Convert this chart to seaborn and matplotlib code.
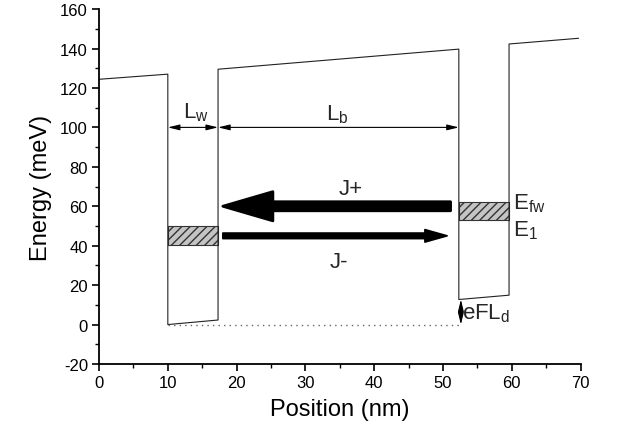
import matplotlib
matplotlib.use("Agg")
import matplotlib.pyplot as plt
import seaborn as sns
import numpy as np

# ---- data ----
profile_x = [0, 10, 10, 17.3, 17.3, 52.3, 52.3, 59.6, 59.6, 69.7]
profile_y = [124.4, 127.0, 0.0, 2.3, 129.5, 139.7, 12.7, 14.9, 142.3, 145.2]

fermi_x = [10, 52.3]
fermi_y = [0, 0]

# hatched subband boxes: (x0, x1, y0, y1)
box1_x = [10, 17.3]
box1_y = [40.6, 50.0]
box2_x = [52.3, 59.6]
box2_y = [53.1, 62.3]

# dimension arrows
lw_x = [10, 17.3]
lb_x = [17.3, 52.3]
dim_y = 100
efld_x = 52.6
efld_y = [0, 12.7]

# current arrows (tail -> head)
jplus_x = [51.1, 18.0]
jplus_y = 60
jminus_x = [18.0, 50.6]
jminus_y = 45

xticks = [0, 10, 20, 30, 40, 50, 60, 70]
yticks = [-20, 0, 20, 40, 60, 80, 100, 120, 140, 160]

sns.set_theme(style="ticks")
plt.rcParams['font.family'] = ['Liberation Sans', 'DejaVu Sans']
plt.rcParams['mathtext.fontset'] = 'custom'
plt.rcParams['mathtext.rm'] = 'Liberation Sans'
plt.rcParams['mathtext.it'] = 'Liberation Sans'
plt.rcParams['axes.unicode_minus'] = False

fig = plt.figure(figsize=(6.17, 4.39), dpi=100)
ax = fig.add_axes([0.1605, 0.1686, 0.941 - 0.1605, 0.977 - 0.1686])

sns.lineplot(x=profile_x, y=profile_y, sort=False, estimator=None, color='#222222',
             lw=0.8, ax=ax)
sns.lineplot(x=fermi_x, y=fermi_y, sort=False, estimator=None, color='#666666',
             lw=1.0, ls=(0, (1, 3)), ax=ax)

for bx, by in [(box1_x, box1_y), (box2_x, box2_y)]:
    ax.fill_between(bx, by[0], by[1], facecolor='#c4c4c4', edgecolor='#333333',
                    hatch='////', lw=0.8)

# dimension arrows
dimstyle = dict(arrowstyle='<|-|>,head_length=0.7,head_width=0.17', color='black',
                lw=0.8, shrinkA=0, shrinkB=0, mutation_scale=10)
ax.annotate('', xy=(lw_x[1], dim_y), xytext=(lw_x[0], dim_y), arrowprops=dimstyle)
ax.annotate('', xy=(lb_x[1], dim_y), xytext=(lb_x[0], dim_y), arrowprops=dimstyle)
ax.annotate('', xy=(efld_x, efld_y[1]), xytext=(efld_x, efld_y[0]), arrowprops=dimstyle)

# current arrows
ax.annotate('', xy=(jplus_x[1], jplus_y), xytext=(jplus_x[0], jplus_y),
            arrowprops=dict(arrowstyle='simple,head_length=36,head_width=21,tail_width=6.5',
                            mutation_scale=1, color='black', lw=2.0, joinstyle='round',
                            shrinkA=0, shrinkB=0))
ax.annotate('', xy=(jminus_x[1], jminus_y), xytext=(jminus_x[0], jminus_y),
            arrowprops=dict(arrowstyle='simple,head_length=16,head_width=9,tail_width=4',
                            mutation_scale=1, color='black', lw=1.2, joinstyle='round',
                            shrinkA=0, shrinkB=0))

fs = 16
ax.text(12.2, 105, r'$\mathregular{L_w}$', fontsize=fs, ha='left', va='baseline')
ax.text(33.0, 104, r'$\mathregular{L_b}$', fontsize=fs, ha='left', va='baseline')
ax.text(34.8, 66, 'J+', fontsize=fs, ha='left', va='baseline')
ax.text(33.5, 29, 'J-', fontsize=fs, ha='left', va='baseline')
ax.text(60.2, 59, r'$\mathregular{E_{fw}}$', fontsize=fs, ha='left', va='baseline')
ax.text(60.2, 45, r'$\mathregular{E_1}$', fontsize=fs, ha='left', va='baseline')
ax.text(52.7, 3, r'$\mathregular{eFL_d}$', fontsize=fs, ha='left', va='baseline')

ax.set_xlim(0, 70)
ax.set_ylim(-20, 160)
ax.set_xticks(xticks)
ax.set_yticks(yticks)
ax.set_xticks(np.arange(5, 70, 10), minor=True)
ax.set_yticks(np.arange(-10, 160, 20), minor=True)
ax.tick_params(which='major', direction='out', length=5, width=1.2, labelsize=12,
               color='black', labelcolor='black', pad=3)
ax.tick_params(which='minor', direction='out', length=3, width=1.0, color='black')
for s in ['top', 'right']:
    ax.spines[s].set_visible(False)
for s in ['left', 'bottom']:
    ax.spines[s].set_linewidth(1.3)
    ax.spines[s].set_color('black')

ax.set_xlabel('Position (nm)', fontsize=17, color='black', labelpad=6)
ax.set_ylabel('Energy (meV)', fontsize=17, color='black', labelpad=6)

fig.savefig('out.png', dpi=100)
